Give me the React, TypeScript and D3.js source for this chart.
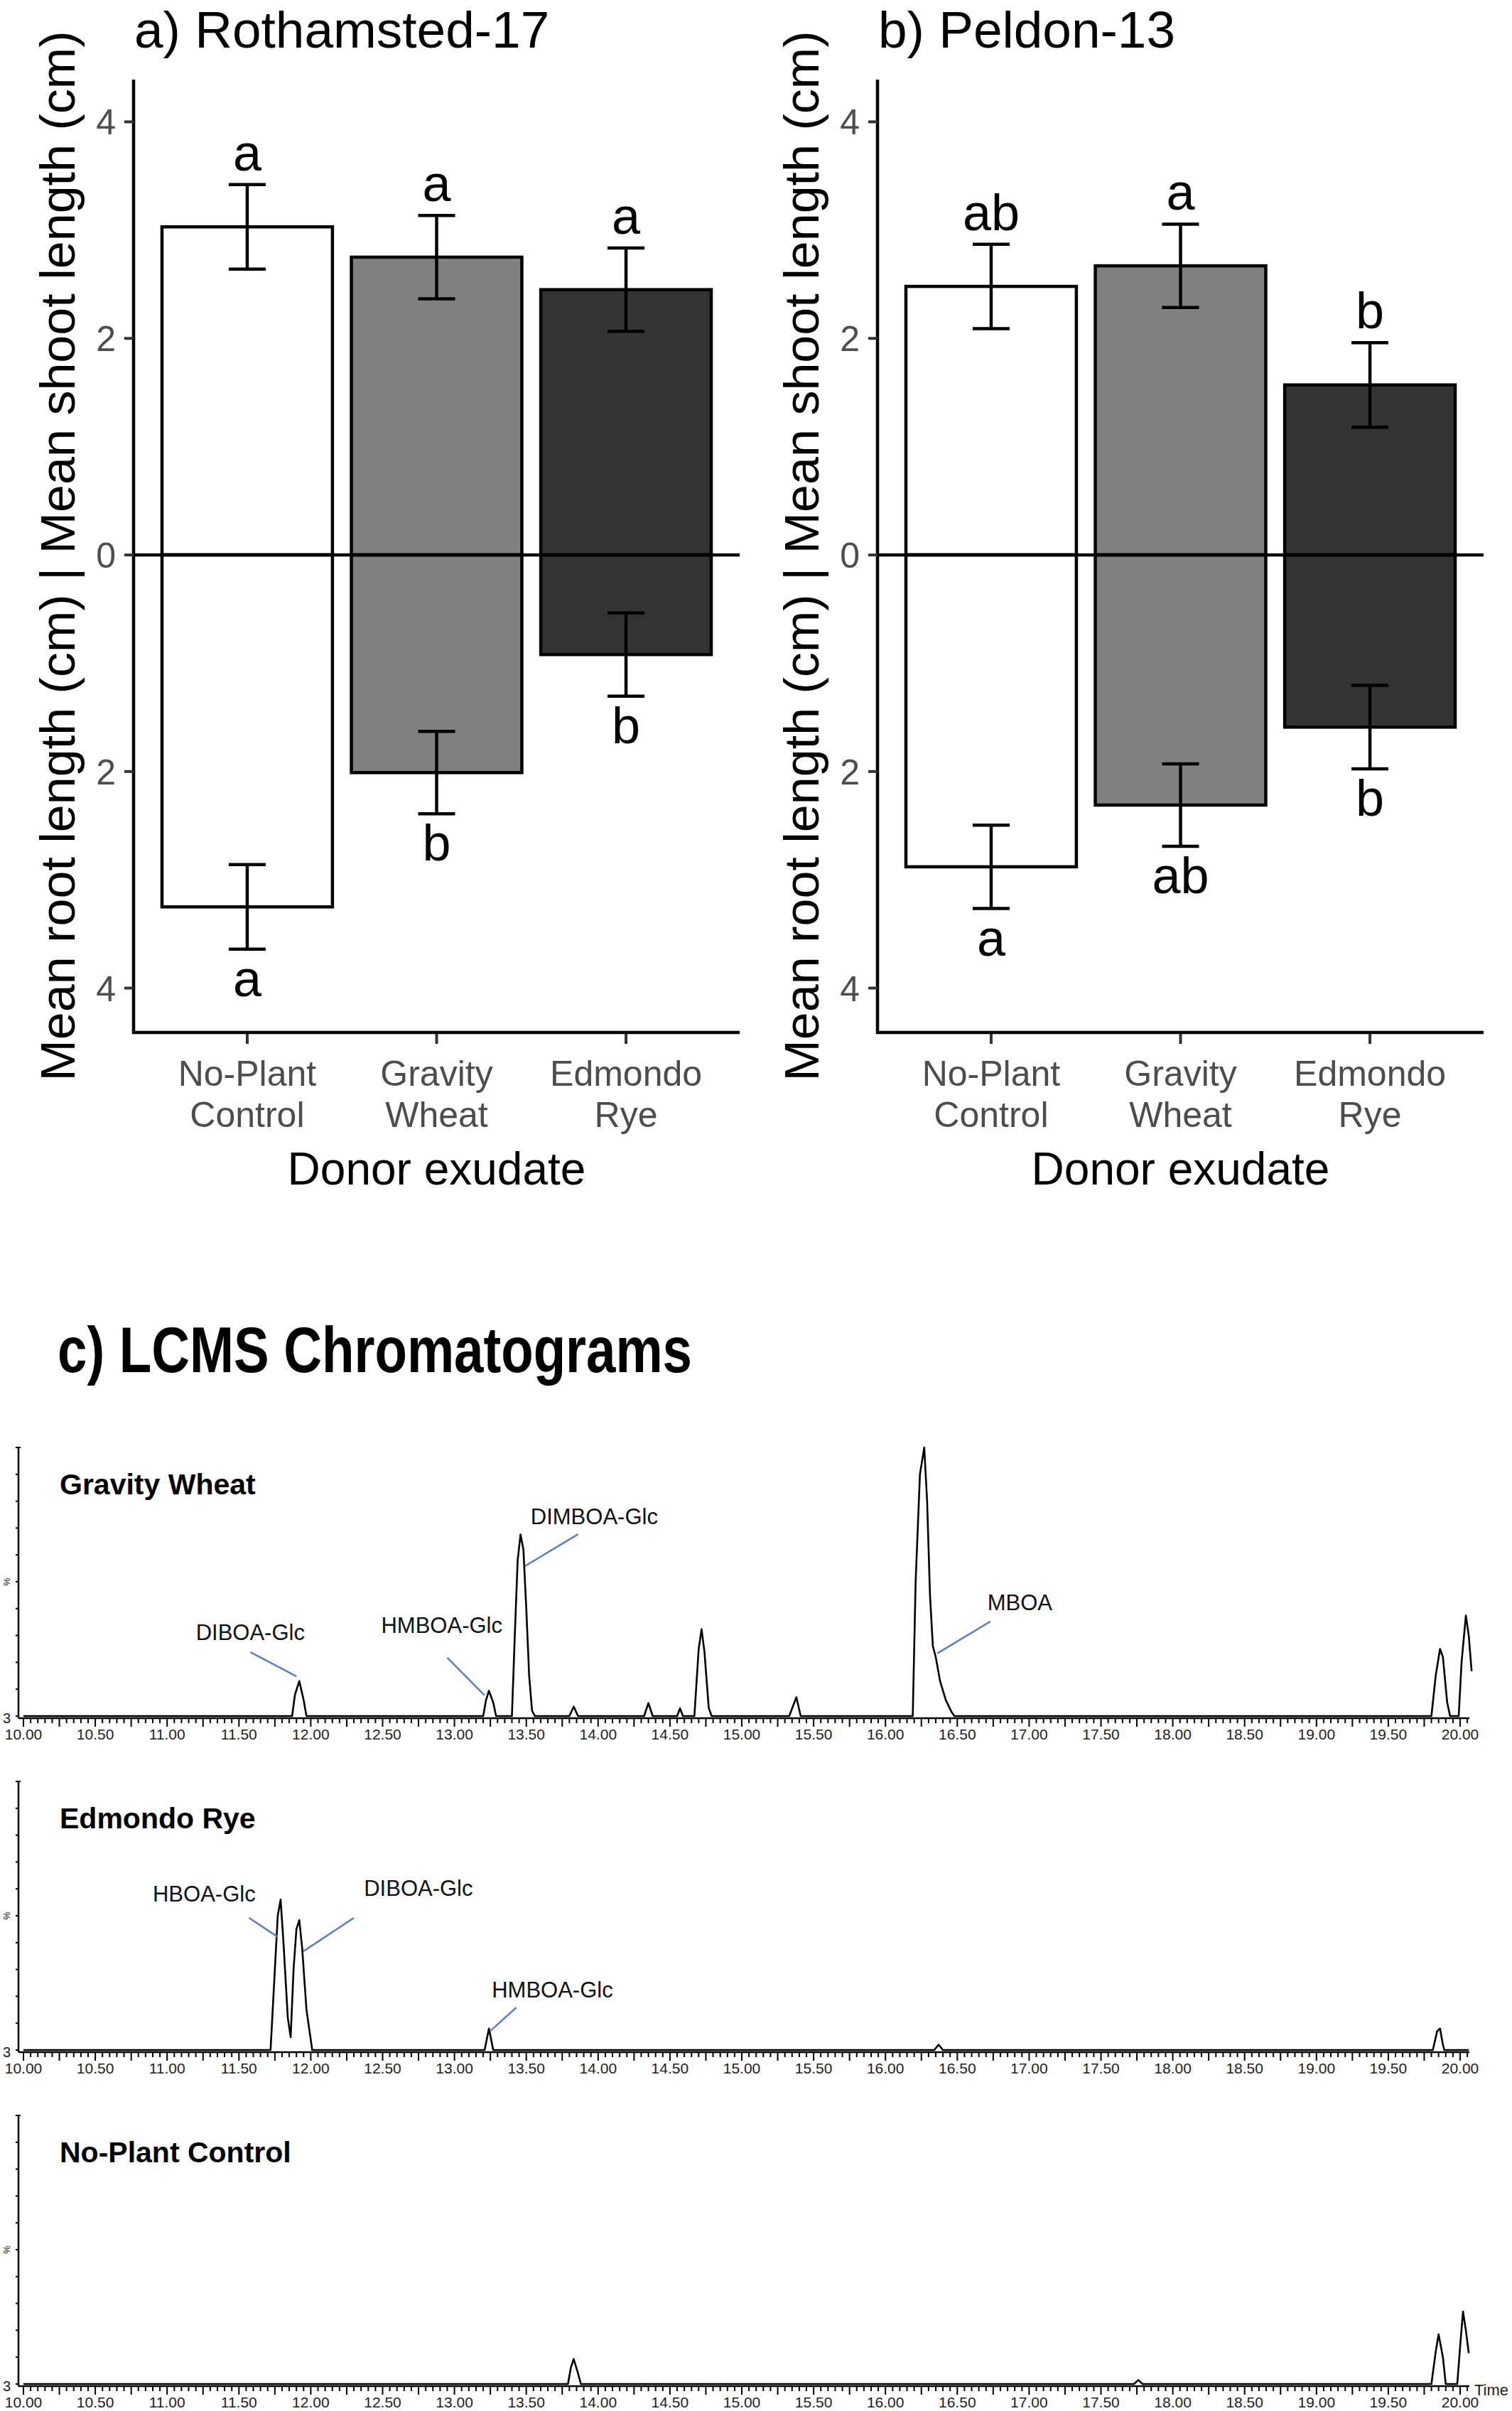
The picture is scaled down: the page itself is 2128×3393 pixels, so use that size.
import React from 'react';
import * as d3 from 'd3';

const W = 2128;
const H = 3393;
const FONT = "'Liberation Sans', Arial, Helvetica, sans-serif";

// ---- bar chart data (cm) ----
const donors = ['No-Plant Control', 'Gravity Wheat', 'Edmondo Rye'];
const donorLines = [['No-Plant', 'Control'], ['Gravity', 'Wheat'], ['Edmondo', 'Rye']];
const barFills = ['#ffffff', '#808080', '#333333'];
const yTicks = [-4, -2, 0, 2, 4];

const rothShoot = [3.03, 2.75, 2.45];
const rothShootSe = [0.39, 0.385, 0.385];
const rothRoot = [3.25, 2.01, 0.92];
const rothRootSe = [0.39, 0.38, 0.385];
const rothShootLetters = ['a', 'a', 'a'];
const rothRootLetters = ['a', 'b', 'b'];

const peldShoot = [2.48, 2.67, 1.57];
const peldShootSe = [0.39, 0.385, 0.39];
const peldRoot = [2.88, 2.31, 1.59];
const peldRootSe = [0.385, 0.38, 0.385];
const peldShootLetters = ['ab', 'a', 'b'];
const peldRootLetters = ['a', 'ab', 'b'];

// ---- chromatogram data: [retention time (min), relative intensity (%)] ----
const chromTicks = [10, 10.5, 11, 11.5, 12, 12.5, 13, 13.5, 14, 14.5, 15, 15.5, 16, 16.5, 17, 17.5, 18, 18.5, 19, 19.5, 20];
const chromNames = ['Gravity Wheat', 'Edmondo Rye', 'No-Plant Control'];

const wheatTrace: [number, number][] = [
  [10.0, 0], [11.87, 0], [11.89, 8], [11.92, 13], [11.95, 6], [11.97, 0],
  [13.2, 0], [13.22, 6], [13.24, 9.4], [13.27, 5], [13.29, 0],
  [13.4, 0], [13.42, 30], [13.44, 58], [13.46, 67.6], [13.48, 62], [13.5, 40], [13.52, 15], [13.54, 2], [13.56, 0],
  [13.8, 0], [13.83, 3.5], [13.86, 0],
  [14.32, 0], [14.35, 4.8], [14.38, 0],
  [14.55, 0], [14.57, 2.9], [14.59, 0],
  [14.67, 0], [14.7, 25], [14.72, 32.3], [14.74, 24], [14.77, 3], [14.79, 0],
  [15.33, 0], [15.38, 7], [15.41, 0],
  [16.19, 0], [16.21, 50], [16.24, 90], [16.27, 100], [16.29, 80], [16.31, 45], [16.33, 26], [16.35, 22], [16.38, 13], [16.42, 6], [16.46, 1.5], [16.48, 0],
  [19.8, 0], [19.83, 15], [19.86, 25], [19.88, 22], [19.91, 5], [19.93, 0],
  [19.99, 0], [20.01, 20], [20.04, 37.4], [20.06, 30], [20.08, 16.7],
];

const ryeTrace: [number, number][] = [
  [10.0, 0], [11.72, 0], [11.75, 30], [11.77, 50], [11.79, 56], [11.81, 40], [11.84, 12], [11.86, 4.8],
  [11.88, 30], [11.9, 45], [11.92, 48.4], [11.94, 38], [11.97, 15], [12.01, 0],
  [13.21, 0], [13.24, 8], [13.27, 0],
  [16.34, 0], [16.37, 2], [16.4, 0],
  [19.81, 0], [19.84, 7], [19.86, 8], [19.88, 2], [19.89, 0], [20.06, 0],
];

const controlTrace: [number, number][] = [
  [10.0, 0], [13.79, 0], [13.81, 6], [13.83, 9.3], [13.86, 4], [13.88, 0],
  [17.73, 0], [17.76, 1.5], [17.79, 0],
  [19.8, 0], [19.83, 12], [19.85, 18.5], [19.88, 10], [19.9, 0],
  [19.98, 0], [20.0, 14], [20.02, 27], [20.04, 20], [20.06, 11.5],
];

interface Note { label: string; t: number; p: number; from: [number, number]; to: [number, number]; }

const wheatNotes: Note[] = [
  { label: 'DIBOA-Glc', t: 11.2, p: 28.3, from: [11.58, 23.8], to: [11.9, 14.8] },
  { label: 'HMBOA-Glc', t: 12.49, p: 31, from: [12.95, 21.7], to: [13.21, 7.7] },
  { label: 'DIMBOA-Glc', t: 13.53, p: 71.4, from: [13.86, 67.7], to: [13.49, 55.8] },
  { label: 'MBOA', t: 16.71, p: 39.4, from: [16.73, 35.2], to: [16.36, 23.3] },
];
const ryeNotes: Note[] = [
  { label: 'HBOA-Glc', t: 10.9, p: 55.3, from: [11.57, 49.2], to: [11.77, 42.1] },
  { label: 'DIBOA-Glc', t: 12.37, p: 57.4, from: [12.3, 49.2], to: [11.95, 36.8] },
  { label: 'HMBOA-Glc', t: 13.26, p: 19.5, from: [13.43, 15.8], to: [13.25, 7.1] },
];
const controlNotes: Note[] = [];

const chromTraces = [wheatTrace, ryeTrace, controlTrace];
const chromNotes = [wheatNotes, ryeNotes, controlNotes];

interface BarPanelProps {
  left: number;
  right: number;
  title: string;
  shoot: number[];
  shootSe: number[];
  root: number[];
  rootSe: number[];
  shootLetters: string[];
  rootLetters: string[];
}

const BarPanel: React.FC<BarPanelProps> = ({ left, right, title, shoot, shootSe, root, rootSe, shootLetters, rootLetters }) => {
  const top = 112;
  const bottom = 1453;
  const x = d3.scaleBand<string>().domain(donors).range([left, right]).paddingInner(0.1).paddingOuter(0.15);
  const y = d3.scaleLinear().domain([-4.41, 4.39]).range([bottom, top]);
  const bw = x.bandwidth();
  const cap = 26;
  const sw = 4.5;

  return (
    <g fontFamily={FONT}>
      <text x={left + 1} y={67} fontSize={73} fill="#000">{title}</text>
      {donors.map((d, i) => {
        const x0 = x(d)!;
        const cx = x0 + bw / 2;
        return (
          <g key={d}>
            <rect x={x0} y={y(shoot[i])} width={bw} height={y(0) - y(shoot[i])} fill={barFills[i]} stroke="#000" strokeWidth={sw} />
            <rect x={x0} y={y(0)} width={bw} height={y(-root[i]) - y(0)} fill={barFills[i]} stroke="#000" strokeWidth={sw} />
            {/* shoot error bar */}
            <line x1={cx} x2={cx} y1={y(shoot[i] + shootSe[i])} y2={y(shoot[i] - shootSe[i])} stroke="#000" strokeWidth={sw} />
            <line x1={cx - cap} x2={cx + cap} y1={y(shoot[i] + shootSe[i])} y2={y(shoot[i] + shootSe[i])} stroke="#000" strokeWidth={sw} />
            <line x1={cx - cap} x2={cx + cap} y1={y(shoot[i] - shootSe[i])} y2={y(shoot[i] - shootSe[i])} stroke="#000" strokeWidth={sw} />
            {/* root error bar */}
            <line x1={cx} x2={cx} y1={y(-(root[i] - rootSe[i]))} y2={y(-(root[i] + rootSe[i]))} stroke="#000" strokeWidth={sw} />
            <line x1={cx - cap} x2={cx + cap} y1={y(-(root[i] - rootSe[i]))} y2={y(-(root[i] - rootSe[i]))} stroke="#000" strokeWidth={sw} />
            <line x1={cx - cap} x2={cx + cap} y1={y(-(root[i] + rootSe[i]))} y2={y(-(root[i] + rootSe[i]))} stroke="#000" strokeWidth={sw} />
            <text x={cx} y={y(shoot[i] + shootSe[i]) - 20} fontSize={72} textAnchor="middle" fill="#000">{shootLetters[i]}</text>
            <text x={cx} y={y(-(root[i] + rootSe[i])) + 66} fontSize={72} textAnchor="middle" fill="#000">{rootLetters[i]}</text>
            {/* x tick + label */}
            <line x1={cx} x2={cx} y1={bottom} y2={bottom + 16} stroke="#333" strokeWidth={4} />
            {donorLines[i].map((s, k) => (
              <text key={k} x={cx} y={1528 + k * 58} fontSize={50} textAnchor="middle" fill="#4d4d4d">{s}</text>
            ))}
          </g>
        );
      })}
      {/* zero line */}
      <line x1={left} x2={right} y1={y(0)} y2={y(0)} stroke="#000" strokeWidth={4.5} />
      {/* axes */}
      <line x1={left} x2={left} y1={top} y2={bottom + 2} stroke="#000" strokeWidth={4.5} />
      <line x1={left - 2} x2={right} y1={bottom} y2={bottom} stroke="#000" strokeWidth={4.5} />
      {yTicks.map(t => (
        <g key={t}>
          <line x1={left - 13} x2={left} y1={y(t)} y2={y(t)} stroke="#333" strokeWidth={4} />
          <text x={left - 25} y={y(t)} dy="0.36em" fontSize={50} textAnchor="end" fill="#4d4d4d">{Math.abs(t)}</text>
        </g>
      ))}
      <text transform={`translate(${left - 83},${(top + bottom) / 2}) rotate(-90)`} fontSize={69}
        textLength={1478} lengthAdjust="spacingAndGlyphs" textAnchor="middle" fill="#000">
        Mean root length (cm) | Mean shoot length (cm)
      </text>
      <text x={(left + right) / 2} y={1667} fontSize={64} textAnchor="middle" fill="#000">Donor exudate</text>
    </g>
  );
};

interface ChromPanelProps {
  top: number;
  name: string;
  trace: [number, number][];
  notes: Note[];
  showTime: boolean;
}

const ChromPanel: React.FC<ChromPanelProps> = ({ top, name, trace, notes, showTime }) => {
  const base = top + 378;
  const axisX = 26;
  const x = d3.scaleLinear().domain([10, 20]).range([33, 2055]);
  const y = d3.scaleLinear().domain([0, 100]).range([base, top]);
  const line = d3.line<[number, number]>().x(d => x(d[0])).y(d => y(d[1]));
  const minor = d3.range(0, 202).map(i => 10 + i * 0.05);
  const yMinor = d3.range(0, 11).map(i => i * 10);

  return (
    <g fontFamily={FONT}>
      {/* y axis */}
      <line x1={axisX} x2={axisX} y1={top} y2={base + 3} stroke="#000" strokeWidth={2.5} />
      {yMinor.map(v => (
        <line key={v} x1={axisX - 4} x2={axisX} y1={y(v)} y2={y(v)} stroke="#000" strokeWidth={2} />
      ))}
      <line x1={axisX - 4} x2={axisX + 3} y1={top} y2={top} stroke="#000" strokeWidth={2} />
      <text transform={`translate(14,${y(50)}) rotate(-90)`} fontSize={13} textAnchor="middle" fill="#111">%</text>
      <text x={4} y={base + 10} fontSize={20} fill="#222">3</text>
      {/* x axis */}
      <line x1={axisX} x2={2068} y1={base + 3} y2={base + 3} stroke="#000" strokeWidth={2.5} />
      {minor.map((t, i) => (
        <line key={i} x1={x(t)} x2={x(t)} y1={base + 3} y2={base + (i % 5 === 0 ? 15 : 10)} stroke="#000" strokeWidth={2} />
      ))}
      {chromTicks.map(t => (
        <text key={t} x={x(t)} y={base + 33} fontSize={21} textAnchor="middle" fill="#1e1e1e">{t.toFixed(2)}</text>
      ))}
      {showTime && <text x={2075} y={base + 16} fontSize={22} fill="#1e1e1e">Time</text>}
      {/* trace */}
      <path d={line(trace) || ''} fill="none" stroke="#000" strokeWidth={2.6} strokeLinejoin="round" />
      {/* annotations */}
      {notes.map(n => (
        <g key={n.label}>
          <line x1={x(n.from[0])} y1={y(n.from[1])} x2={x(n.to[0])} y2={y(n.to[1])} stroke="#5a7fc8" strokeWidth={2.5} />
          <text x={x(n.t)} y={y(n.p)} fontSize={31} fill="#111">{n.label}</text>
        </g>
      ))}
      <text x={84} y={top + 66} fontSize={41} fontWeight="bold" fill="#000">{name}</text>
    </g>
  );
};

const App: React.FC = () => {
  const chromTops = [2037, 2507, 2977];
  return (
    <div style={{ position: 'absolute', left: 0, top: 0 }}>
      <svg width={W} height={H} viewBox={`0 0 ${W} ${H}`} style={{ display: 'block', background: '#fff' }}>
        <rect x={0} y={0} width={W} height={H} fill="#fff" />
        <BarPanel left={188} right={1041} title="a) Rothamsted-17"
          shoot={rothShoot} shootSe={rothShootSe} root={rothRoot} rootSe={rothRootSe}
          shootLetters={rothShootLetters} rootLetters={rothRootLetters} />
        <BarPanel left={1235} right={2088} title="b) Peldon-13"
          shoot={peldShoot} shootSe={peldShootSe} root={peldRoot} rootSe={peldRootSe}
          shootLetters={peldShootLetters} rootLetters={peldRootLetters} />
        <text x={81} y={1931} fontFamily={FONT} fontWeight="bold" fontSize={90}
          textLength={893} lengthAdjust="spacingAndGlyphs" fill="#000">c) LCMS Chromatograms</text>
        {chromNames.map((nm, i) => (
          <ChromPanel key={nm} top={chromTops[i]} name={nm} trace={chromTraces[i]} notes={chromNotes[i]} showTime={i === 2} />
        ))}
      </svg>
    </div>
  );
};

export default App;
